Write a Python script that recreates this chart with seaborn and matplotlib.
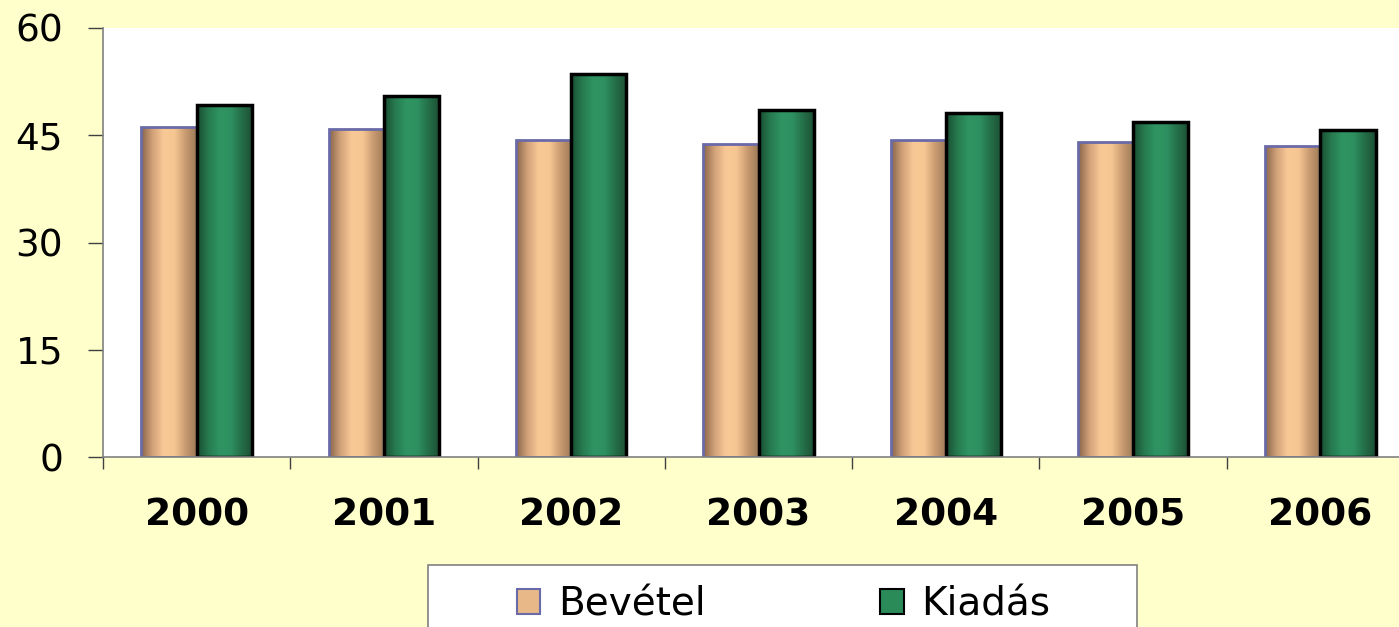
import numpy as np
import pandas as pd
import matplotlib
matplotlib.use("Agg")
import matplotlib.pyplot as plt
import seaborn as sns
from matplotlib.colors import LinearSegmentedColormap
from matplotlib.patches import Rectangle

years = ["2000", "2001", "2002", "2003", "2004", "2005", "2006"]
bevetel = [46.1, 45.9, 44.3, 43.8, 44.3, 44.1, 43.5]
kiadas = [49.2, 50.5, 53.6, 48.5, 48.1, 46.9, 45.7]
series = ["Bevétel", "Kiadás"]
yticks = [0, 15, 30, 45, 60]

df = pd.DataFrame({
    "year": years * 2,
    "value": bevetel + kiadas,
    "series": [series[0]] * len(years) + [series[1]] * len(years),
})

sns.set_style("white")
plt.rcParams["font.family"] = ["DejaVu Sans"]
plt.rcParams["text.color"] = "black"
plt.rcParams["xtick.labelcolor"] = "black"
plt.rcParams["ytick.labelcolor"] = "black"

W, H = 1399, 627
fig = plt.figure(figsize=(W / 100, H / 100), dpi=100)
fig.patch.set_facecolor("#FFFFCC")
ax = fig.add_axes([103 / W, 1 - 457 / H, 1311 / W, 429 / H])
ax.set_facecolor("white")

flat = {"Bevétel": "#E8B888", "Kiadás": "#2A8A58"}
sns.barplot(data=df, x="year", y="value", hue="series", order=years,
            hue_order=series, palette=flat, width=0.59, gap=0,
            ax=ax, legend=False, saturation=1)

cmaps = {
    "Bevétel": LinearSegmentedColormap.from_list(
        "tan", ["#866448", "#d0a078", "#f8c896", "#f6c692", "#c89a70", "#9a7858"]),
    "Kiadás": LinearSegmentedColormap.from_list(
        "grn", ["#1a4c33", "#267a4e", "#2f9462", "#2e9060", "#246e48", "#1c4e34"]),
}
edges = {"Bevétel": ("#6a6aa8", 2.0), "Kiadás": ("#000000", 2.5)}

grad = np.linspace(0, 1, 256).reshape(1, -1)
n = len(years)
for i, patch in enumerate(ax.patches[: 2 * n]):
    s = series[i // n]
    x0, y0 = patch.get_x(), patch.get_y()
    w, h = patch.get_width(), patch.get_height()
    im = ax.imshow(grad, cmap=cmaps[s], aspect="auto",
                   extent=[x0, x0 + w, y0, y0 + h], zorder=patch.get_zorder() - 0.05,
                   interpolation="bilinear")
    im.set_clip_path(patch)
    patch.set_facecolor("none")
    patch.set_edgecolor(edges[s][0])
    patch.set_linewidth(edges[s][1])

ax.set_xlim(-0.5, 6.5)
ax.set_ylim(0, 60)
ax.set_yticks(yticks)
ax.set_yticklabels([str(v) for v in yticks])
ax.set_xlabel("")
ax.set_ylabel("")

for sp in ["top", "right"]:
    ax.spines[sp].set_visible(False)
for sp in ["left", "bottom"]:
    ax.spines[sp].set_color("#808080")
    ax.spines[sp].set_linewidth(1.2)

ax.tick_params(axis="y", which="major", direction="out", length=10.8, width=1,
               color="#404040", pad=18, labelsize=27, labelcolor="black", left=True)
ax.set_xticks(np.arange(-0.5, 7.0, 1.0), minor=True)
ax.tick_params(axis="x", which="minor", direction="out", length=8.6, width=1,
               color="#404040", bottom=True)
ax.tick_params(axis="x", which="major", length=0, pad=29, labelsize=27,
               labelcolor="black")
for lbl in ax.get_xticklabels():
    lbl.set_fontweight("bold")

# legend box
fig.patches.append(Rectangle((428 / W, -0.1), 709 / W, 0.1 + (627 - 565) / H,
                             transform=fig.transFigure, facecolor="white",
                             edgecolor="#808080", linewidth=1.2, zorder=0))
handles = [Rectangle((0, 0), 1, 1, facecolor="#e8b888", edgecolor="#6a6aa8", linewidth=1.5),
           Rectangle((0, 0), 1, 1, facecolor="#2a8a58", edgecolor="#000000", linewidth=1.5)]
fig.legend(handles, series, loc="center left", bbox_to_anchor=(517 / W, 1 - 604 / H),
           ncol=2, frameon=False, fontsize=28, handlelength=0.6, handleheight=0.6,
           handletextpad=0.45, columnspacing=4.5, borderpad=0, borderaxespad=0,
           labelcolor="black")

fig.savefig("out.png", dpi=100, facecolor=fig.get_facecolor())
